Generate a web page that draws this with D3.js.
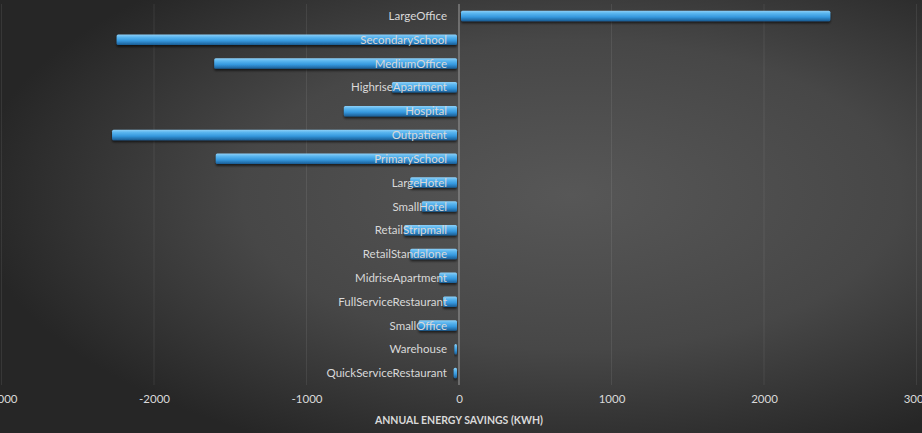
<!DOCTYPE html>
<html>
<head>
<meta charset="utf-8">
<script src="https://cdn.jsdelivr.net/npm/d3@7"></script>
<style>
  html, body { margin: 0; padding: 0; background: #2b2b2b; }
  svg { display: block; }
  text { font-family: Lato, "Open Sans", sans-serif; }
</style>
</head>
<body>
<div id="chart"></div>
<script>
const categories = [
  `LargeOffice`, `SecondarySchool`, `MediumOffice`, `HighriseApartment`, `Hospital`,
  `Outpatient`, `PrimarySchool`, `LargeHotel`, `SmallHotel`, `RetailStripmall`,
  `RetailStandalone`, `MidriseApartment`, `FullServiceRestaurant`, `SmallOffice`,
  `Warehouse`, `QuickServiceRestaurant`
];
const savings = [
  2435, -2245, -1605, -440, -755,
  -2275, -1595, -320, -245, -360,
  -320, -130, -105, -265,
  -30, -35
];
const xTicks = [-3000, -2000, -1000, 0, 1000, 2000, 3000];
const xTitle = `ANNUAL ENERGY SAVINGS (KWH)`;

const width = 922, height = 433;

const svg = d3.select(`#chart`).append(`svg`)
    .attr(`width`, width)
    .attr(`height`, height);

const defs = svg.append(`defs`);

// dark radial backdrop
const bg = defs.append(`radialGradient`)
    .attr(`id`, `bg`)
    .attr(`cx`, `62%`).attr(`cy`, `45%`).attr(`r`, `65%`);
bg.append(`stop`).attr(`offset`, `0%`).attr(`stop-color`, `#575757`);
bg.append(`stop`).attr(`offset`, `55%`).attr(`stop-color`, `#474747`);
bg.append(`stop`).attr(`offset`, `100%`).attr(`stop-color`, `#262626`);

// bevelled blue bar
const barGrad = defs.append(`linearGradient`)
    .attr(`id`, `barGrad`)
    .attr(`x1`, 0).attr(`y1`, 0).attr(`x2`, 0).attr(`y2`, 1);
barGrad.append(`stop`).attr(`offset`, `0%`).attr(`stop-color`, `#8fd0f7`);
barGrad.append(`stop`).attr(`offset`, `25%`).attr(`stop-color`, `#5bb6ef`);
barGrad.append(`stop`).attr(`offset`, `60%`).attr(`stop-color`, `#3598de`);
barGrad.append(`stop`).attr(`offset`, `100%`).attr(`stop-color`, `#1b5c93`);

const shadow = defs.append(`filter`).attr(`id`, `shadow`)
    .attr(`x`, `-5%`).attr(`y`, `-50%`).attr(`width`, `110%`).attr(`height`, `220%`);
shadow.append(`feDropShadow`)
    .attr(`dx`, 0).attr(`dy`, 2).attr(`stdDeviation`, 1.2)
    .attr(`flood-color`, `#000`).attr(`flood-opacity`, 0.6);

svg.append(`rect`)
    .attr(`width`, width).attr(`height`, height)
    .attr(`fill`, `url(#bg)`);

const x = d3.scaleLinear()
    .domain([-3000, 3000])
    .range([1.5, 916.5]);

const y = d3.scaleBand()
    .domain(categories)
    .range([4, 385])
    .paddingInner(0.56)
    .paddingOuter(0.28);

// gridlines
svg.append(`g`)
    .selectAll(`line`)
    .data(xTicks.filter((t) => t !== 0))
  .enter().append(`line`)
    .attr(`x1`, (d) => x(d)).attr(`x2`, (d) => x(d))
    .attr(`y1`, 4).attr(`y2`, 385)
    .attr(`stroke`, `#ffffff`)
    .attr(`stroke-opacity`, 0.08)
    .attr(`stroke-width`, 1);

// bars
svg.append(`g`)
    .selectAll(`rect`)
    .data(categories)
  .enter().append(`rect`)
    .attr(`x`, (d, i) => Math.min(x(0), x(savings[i])) + (savings[i] < 0 ? 0 : 2))
    .attr(`y`, (d) => y(d))
    .attr(`width`, (d, i) => Math.max(Math.abs(x(savings[i]) - x(0)) - 2, 2))
    .attr(`height`, y.bandwidth())
    .attr(`rx`, 1.5)
    .attr(`fill`, `url(#barGrad)`)
    .attr(`filter`, `url(#shadow)`);

// zero axis line
svg.append(`line`)
    .attr(`x1`, x(0)).attr(`x2`, x(0))
    .attr(`y1`, 4).attr(`y2`, 385)
    .attr(`stroke`, `#8e8e8e`)
    .attr(`stroke-width`, 1.2);

// category labels
svg.append(`g`)
    .selectAll(`text`)
    .data(categories)
  .enter().append(`text`)
    .attr(`x`, x(0) - 12)
    .attr(`y`, (d) => y(d) + y.bandwidth() / 2)
    .attr(`dy`, `0.36em`)
    .attr(`text-anchor`, `end`)
    .attr(`fill`, `#d9d9d9`)
    .attr(`font-size`, `11.5px`)
    .text((d) => d);

// x axis, plain hyphen for negatives like the original
const xAxis = d3.axisBottom(x)
    .tickValues(xTicks)
    .tickSize(0)
    .tickPadding(9)
    .tickFormat((d) => String(d));

const gx = svg.append(`g`)
    .attr(`transform`, `translate(0,${386})`)
    .call(xAxis);
gx.select(`.domain`).remove();
gx.selectAll(`text`)
    .attr(`fill`, `#d9d9d9`)
    .attr(`font-size`, `11.5px`)
    .attr(`font-family`, `Lato, "Open Sans", sans-serif`);

svg.append(`text`)
    .attr(`x`, x(0))
    .attr(`y`, 424)
    .attr(`text-anchor`, `middle`)
    .attr(`fill`, `#d9d9d9`)
    .attr(`font-size`, `10.5px`)
    .attr(`font-weight`, `bold`)
    .text(xTitle);
</script>
</body>
</html>
